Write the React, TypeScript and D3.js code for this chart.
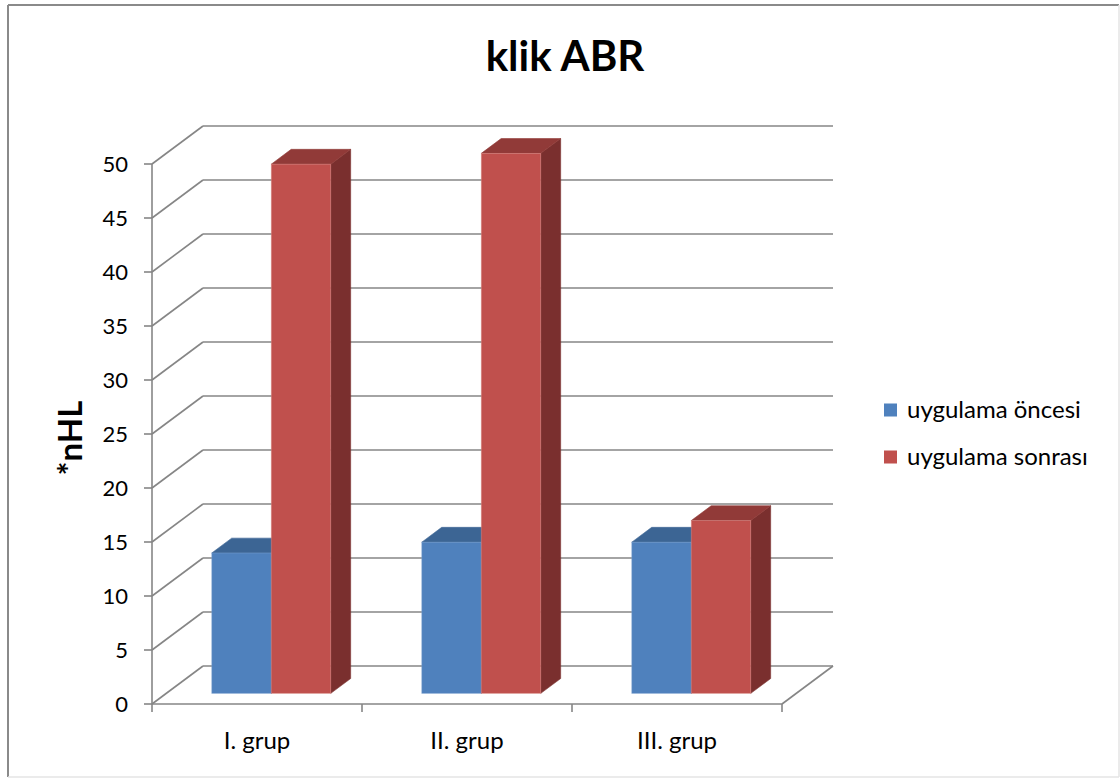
import React from "react";
import * as d3 from "d3";

// Chart data
const categories = ["I. grup", "II. grup", "III. grup"];
const seriesNames = ["uygulama öncesi", "uygulama sonrası"];
const oncesi = [13, 14, 14];
const sonrasi = [49, 50, 16];
const yTicks = [0, 5, 10, 15, 20, 25, 30, 35, 40, 45, 50];

const W = 1120;
const H = 778;
const FONT = "Lato, 'Open Sans', sans-serif";

// Front plane of the 3D plot box
const plotLeft = 152;
const plotRight = 782;
const yZero = 704;
const yTop = 164;
// Full depth offset of the box (front -> back wall)
const depthDx = 51;
const depthDy = -38;
// Bars occupy this slice of the depth
const barDepthFront = 0.28;
const barDepthBack = 0.67;

const colors = {
  blue: { front: "#4F81BD", top: "#3C6594", side: "#385D8A", edge: "#7FA3D0" },
  red: { front: "#C0504D", top: "#913A38", side: "#7A2F2E", edge: "#D98886" },
};

export default function App() {
  const y = d3.scaleLinear().domain([0, 50]).range([yZero, yTop]);
  const x = d3.scaleBand<string>().domain(categories).range([plotLeft, plotRight]).paddingInner(0).paddingOuter(0);
  const xs = d3.scaleBand<string>().domain(seriesNames).range([0, x.bandwidth()]).paddingInner(0).paddingOuter(0.765);

  const gridColor = "#868686";
  const seriesValues = [oncesi, sonrasi];
  const seriesColors = [colors.blue, colors.red];

  const fdx = depthDx * barDepthFront;
  const fdy = depthDy * barDepthFront;
  const bdx = depthDx * barDepthBack;
  const bdy = depthDy * barDepthBack;
  const base = y(0);

  const bars: React.ReactNode[] = [];
  categories.forEach((cat, ci) => {
    seriesNames.forEach((s, si) => {
      const v = seriesValues[si][ci];
      const c = seriesColors[si];
      const x0 = (x(cat) as number) + (xs(s) as number) + fdx;
      const x1 = x0 + xs.bandwidth();
      const yb = base + fdy;
      const yt = y(v) + fdy;
      const ddx = bdx - fdx;
      const ddy = bdy - fdy;
      const side = `M${x1},${yt} L${x1 + ddx},${yt + ddy} L${x1 + ddx},${yb + ddy} L${x1},${yb} Z`;
      const top = `M${x0},${yt} L${x0 + ddx},${yt + ddy} L${x1 + ddx},${yt + ddy} L${x1},${yt} Z`;
      bars.push(
        <g key={`${ci}-${si}`}>
          <path d={side} fill={c.side} stroke={c.side} strokeWidth={0.6} />
          <path d={top} fill={c.top} stroke={c.top} strokeWidth={0.6} />
          <rect x={x0} y={yt} width={x1 - x0} height={yb - yt} fill={c.front} stroke={c.edge} strokeWidth={0.8} strokeOpacity={0.6} />
        </g>
      );
    });
  });

  return (
    <svg width={W} height={H} style={{ position: "absolute", left: 0, top: 0, background: "#fff" }} fontFamily={FONT}>
      {/* chart frame */}
      <rect x={0} y={0} width={W} height={H} fill="#fff" />
      <line x1={8} y1={5} x2={1119} y2={5} stroke="#8a8a8a" strokeWidth={2} />
      <line x1={8} y1={5} x2={8} y2={777} stroke="#8a8a8a" strokeWidth={2} />
      <line x1={1119} y1={5} x2={1119} y2={777} stroke="#e4e4e4" strokeWidth={1.5} />
      <line x1={8} y1={777} x2={1119} y2={777} stroke="#e4e4e4" strokeWidth={1.5} />

      {/* title */}
      <text x={565} y={71} textAnchor="middle" fontSize={42} fontWeight={700} fill="#000">klik ABR</text>

      {/* back wall gridlines and side wall diagonals */}
      {yTicks.map((t) => (
        <g key={t} stroke={gridColor} strokeWidth={1.6} fill="none">
          <line x1={plotLeft} y1={y(t)} x2={plotLeft + depthDx} y2={y(t) + depthDy} />
          <line x1={plotLeft + depthDx} y1={y(t) + depthDy} x2={plotRight + depthDx} y2={y(t) + depthDy} />
        </g>
      ))}
      {/* floor front edge and right edge */}
      <g stroke={gridColor} strokeWidth={1.6} fill="none">
        <line x1={plotLeft} y1={y(0)} x2={plotRight} y2={y(0)} />
        <line x1={plotRight} y1={y(0)} x2={plotRight + depthDx} y2={y(0) + depthDy} />
        {/* value axis */}
        <line x1={plotLeft} y1={y(50)} x2={plotLeft} y2={y(0) + 8} />
        {yTicks.map((t) => (
          <line key={t} x1={plotLeft - 8} y1={y(t)} x2={plotLeft} y2={y(t)} />
        ))}
        {/* category boundary ticks */}
        {categories.map((c) => (
          <line key={c} x1={(x(c) as number) + x.bandwidth()} y1={y(0)} x2={(x(c) as number) + x.bandwidth()} y2={y(0) + 8} />
        ))}
      </g>

      {/* value axis labels */}
      {yTicks.map((t) => (
        <text key={t} x={128} y={y(t)} dy="0.36em" textAnchor="end" fontSize={22} fill="#000">{t}</text>
      ))}

      {/* axis title */}
      <text transform="translate(82,438) rotate(-90)" textAnchor="middle" fontSize={33} fontWeight={700} fill="#000">*nHL</text>

      {/* bars */}
      {bars}

      {/* category labels */}
      {categories.map((c) => (
        <text key={c} x={(x(c) as number) + x.bandwidth() / 2} y={749} textAnchor="middle" fontSize={24} fill="#000">{c}</text>
      ))}

      {/* legend */}
      {seriesNames.map((s, i) => (
        <g key={s} transform={`translate(884,${410 + i * 47})`}>
          <rect x={0} y={-6.5} width={13} height={13} fill={seriesColors[i].front} />
          <text x={23} y={0} dy="0.35em" fontSize={24} fill="#000">{s}</text>
        </g>
      ))}
    </svg>
  );
}
